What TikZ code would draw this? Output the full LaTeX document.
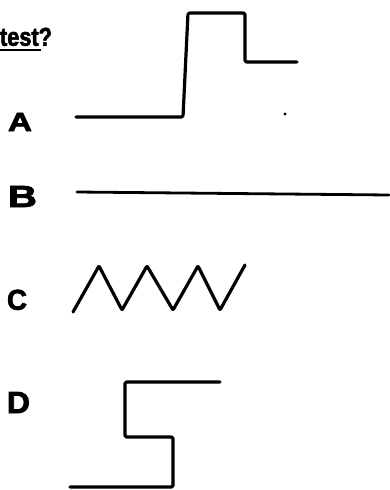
\documentclass[tikz,border=0pt]{standalone}
\usepackage{fontspec}
\setmainfont{Liberation Sans}
\newfontfamily\heavyfont[BoldFont={Liberation Sans Bold},BoldFeatures={FakeBold=2.5}]{Liberation Sans}
\usepackage{graphicx}
\newcommand\lblbox[3]{\resizebox{#1pt}{#2pt}{\heavyfont\bfseries #3}}
\begin{document}
\begin{tikzpicture}[x=1pt,y=-1pt,
  wave/.style={line width=3.2pt,line cap=round,line join=round,rounded corners=1.5pt},
  lbl/.style={inner sep=0pt,outer sep=0pt,anchor=south west}]
\useasboundingbox (0,0) rectangle (389,490);
% question text
\node[lbl] (q) at (0,46) {\lblbox{52}{18}{test?}};
\draw[line width=2pt] (0,50) -- (41,50);
% labels
\node[lbl] (A) at (8,131) {\lblbox{24}{18}{A}};
\node[lbl] (B) at (8,207) {\lblbox{29}{21}{B}};
\node[lbl] (C) at (7,310) {\lblbox{20}{20}{C}};
\node[lbl] (D) at (7,413) {\lblbox{23}{21}{D}};
% waveform A
\draw[wave] (76,117) -- (183,117) -- (188,13) -- (245,13) -- (245,62) -- (297,62);
\fill (285,114) circle (1.6pt);
% waveform B
\draw[wave,line width=2.8pt] (77,192) -- (389,195);
% waveform C
\draw[wave,rounded corners=0.8pt] (73,312) -- (99,266) -- (122,310) -- (147,266) -- (173,310) -- (198,266) -- (220,310) -- (245,265);
% waveform D
\draw[wave] (70,487) -- (173,487) -- (173,437) -- (125,437) -- (125,382) -- (220,382);
\end{tikzpicture}
\end{document}
